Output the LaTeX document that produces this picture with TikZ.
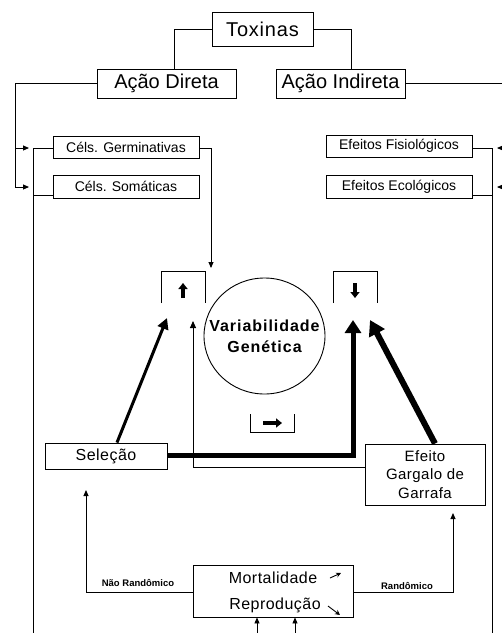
\documentclass[tikz,border=0pt]{standalone}
\usepackage{fontspec}
\setmainfont{Liberation Sans}
\usetikzlibrary{arrows.meta,shapes.geometric}
\newcommand{\fsz}[1]{\fontsize{#1}{#1}\selectfont}
\tikzset{
  box/.style={draw, line width=0.9pt, inner sep=0pt, align=center},
  link/.style={line width=0.9pt},
  tip/.style={link, -{Triangle[length=6pt,width=5pt]}},
  fat/.style={line width=3.5pt, -{Triangle[length=6pt,width=9pt]}},
}
\begin{document}
\begin{tikzpicture}[x=1pt,y=-1pt]
\useasboundingbox[fill=white] (0,0) rectangle (502,633);

\node[box, minimum width=101pt, minimum height=34pt, font=\fsz{20}\addfontfeature{LetterSpace=4}] (tox) at (262.5,29) {Toxinas};
\node[box, minimum width=139pt, minimum height=29pt, font=\fsz{20}] (dir) at (166.5,83.5) {Ação Direta};
\node[box, minimum width=129pt, minimum height=29pt, font=\fsz{20}] (ind) at (340.5,83.5) {Ação Indireta};

\node[box, minimum width=146pt, minimum height=22pt, font=\fsz{14}] (germ) at (126,147) {Céls. Germinativas};
\node[box, minimum width=146pt, minimum height=23pt, font=\fsz{14}] (soma) at (126,186.5) {Céls. Somáticas};
\node[box, minimum width=146pt, minimum height=22pt, font=\fsz{14}] (fisio) at (399,146) {Efeitos Fisiológicos};
\node[box, minimum width=146pt, minimum height=23pt, font=\fsz{14}] (eco) at (399,186.5) {Efeitos Ecológicos};

\node[box, ellipse, minimum width=121pt, minimum height=116pt] (var) at (264.5,336) {};
\node[align=center, inner sep=0pt, font=\bfseries\fontsize{16}{21}\selectfont\addfontfeature{LetterSpace=6}] (vtxt) at (var.center) {Variabilidade\\Genética};

\node[box, minimum width=122pt, minimum height=26pt, font=\fsz{16}\addfontfeature{LetterSpace=3}] (sel) at (106,456) {Seleção};
\node[box, minimum width=120pt, minimum height=61pt, font=\fontsize{15}{18.5}\selectfont\addfontfeature{LetterSpace=3}] (gar) at (425,474.5) {Efeito\\Gargalo de\\Garrafa};
\node[box, minimum width=160pt, minimum height=52pt] (mort) at (273,591) {};
\node[font=\fsz{16}\addfontfeature{LetterSpace=3}] (mtxt) at (273,578) {Mortalidade};
\node[font=\fsz{16}\addfontfeature{LetterSpace=3}] (rtxt) at (275,605) {Reprodução};

% brackets
\coordinate (bu) at (183,287);
\coordinate (bd) at (355,287);
\coordinate (br) at (272,423);
\draw[link] (161,303) -- (161,271) -- (205,271) -- (205,303);
\draw[link] (333,303) -- (333,271) -- (377,271) -- (377,303);
\draw[link] (250,414) -- (250,432) -- (294,432) -- (294,414);
\draw[fat] ([yshift=-11pt]bu) -- ([yshift=4pt]bu);
\draw[fat] ([yshift=4pt]bd) -- ([yshift=-11pt]bd);
\draw[fat] ([xshift=-9pt]br) -- ([xshift=10pt]br);

% top tree
\draw[link] (tox.west) -| ([xshift=7.5pt]dir.north);
\draw[link] (tox.east) -| ([xshift=10.5pt]ind.north);

\coordinate (lg) at (29,148);
\coordinate (ls) at (29,187);
\draw[tip] (dir.west) -| (15,187) -- (ls);
\draw[tip] (15,148) -- (lg);
\coordinate (rg) at (497,148);
\coordinate (rs) at (497,187);
\draw[tip] (ind.east) -| (512,187) -- (rs);
\draw[tip] (512,148) -- (rg);

\draw[link] ([yshift=-1pt]germ.west) -| (33,640);
\draw[link] ([yshift=-9pt]soma.west) -- ++(-20,0);
\draw[link] ([yshift=-2pt]fisio.east) -| (492,640);
\draw[link] ([yshift=-8.5pt]eco.east) -- ++(20,0);

\coordinate (tg) at (211,268);
\draw[tip] ([yshift=-1pt]germ.east) -| (tg);

% causes
\coordinate (ta) at (167,318);
\coordinate (tb) at (353,320);
\coordinate (tc) at (193,321);
\coordinate (td) at (370,320);
\draw[line width=3pt, -{Triangle[length=11pt,width=11pt]}] ([xshift=11pt]sel.north) -- (ta);
\draw[line width=5pt, -{Triangle[length=13pt,width=16pt]}] ([yshift=1pt]sel.east) -| (tb);
\draw[tip, -{Triangle[length=7pt,width=6pt]}] ([yshift=7.5pt]gar.west) -| (tc);
\draw[line width=6pt, -{Triangle[length=15pt,width=17pt]}] ([xshift=10pt]gar.north) -- (td);

% mortality
\draw[link, -{Stealth[length=5pt,width=5pt]}] (330,578) -- (341,573);
\draw[link, -{Stealth[length=5pt,width=5pt]}] (328,606) -- (340,615);
\coordinate (ts) at (86,490);
\coordinate (te) at (453,513);
\draw[tip] ([yshift=-1pt]mort.west) -| (ts);
\draw[tip] ([yshift=-1pt]mort.east) -| (te);
\node[font=\bfseries\fsz{9.5}] (nr) at (138,583) {Não Randômico};
\node[font=\bfseries\fsz{9.5}] (ra) at (407,586) {Randômico};
\draw[tip] ([xshift=-16pt]mort.south) ++(0,18) -- ([xshift=-16pt]mort.south);
\draw[tip] ([xshift=22pt]mort.south) ++(0,18) -- ([xshift=22pt]mort.south);
\end{tikzpicture}
\end{document}
